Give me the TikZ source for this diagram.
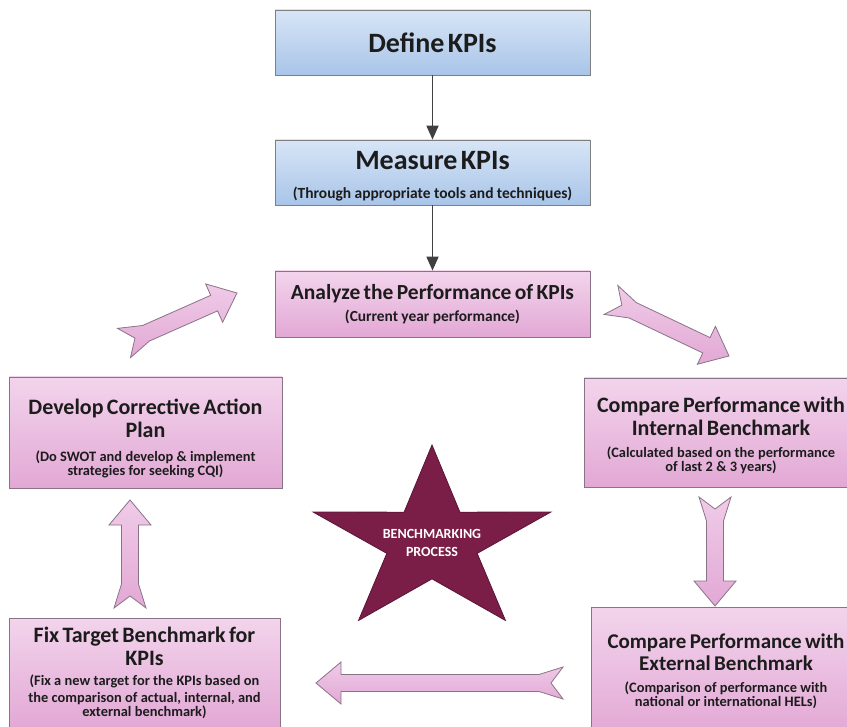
\documentclass[tikz,border=0pt]{standalone}
\usepackage{fontspec}
\setmainfont{Carlito}
\usetikzlibrary{calc}
\usetikzlibrary{arrows.meta, shapes, positioning}
\tikzset{>=stealth}

\definecolor{bluetop}{HTML}{D7E5F6}
\definecolor{bluebot}{HTML}{A8C5E8}
\definecolor{pinktop}{HTML}{F3D4EC}
\definecolor{pinkbot}{HTML}{E2A8D5}
\definecolor{boxline}{HTML}{7F7F7F}
\definecolor{pinkline}{HTML}{8A7387}
\definecolor{starfill}{HTML}{7A1D47}
\definecolor{starline}{HTML}{5B1535}
\definecolor{flowgray}{HTML}{404040}
\definecolor{txt}{HTML}{1C1C1C}

% notched block arrow from tail #1 to tip #2
\newcommand{\fletcharrow}[2]{%
  \draw[blockarrow] ($(#1)!12pt!(#2)$)
    -- ($(#1)!16pt!90:(#2)$)
    -- ($(#1)!24pt!(#2)!8.5pt!90:(#2)$)
    -- ($(#2)!25pt!(#1)!8.5pt!-90:(#1)$)
    -- ($(#2)!25pt!(#1)!21pt!-90:(#1)$)
    -- (#2)
    -- ($(#2)!25pt!(#1)!21pt!90:(#1)$)
    -- ($(#2)!25pt!(#1)!8.5pt!90:(#1)$)
    -- ($(#1)!24pt!(#2)!8.5pt!-90:(#2)$)
    -- ($(#1)!16pt!-90:(#2)$)
    -- cycle;}

\begin{document}
\begin{tikzpicture}[x=1pt, y=-1pt,
    kpibox/.style={draw=boxline, line width=0.8pt, top color=bluetop, bottom color=bluebot,
      minimum width=315pt, inner sep=0pt, align=center, text=txt, font=\bfseries},
    stepbox/.style={draw=pinkline, line width=0.8pt, top color=pinktop, bottom color=pinkbot,
      inner sep=0pt, align=center, text=txt, font=\bfseries},
    blockarrow/.style={draw=pinkline, line width=0.8pt, top color=pinktop!80!pinkbot, bottom color=pinkbot},
    benchstar/.style={fill=starfill, draw=starline, line width=0.8pt},
    flow/.style={flowgray, line width=1.8pt, -{Triangle[length=14pt,width=12pt]}}]

  \useasboundingbox (0,0) rectangle (847,727);
  \fill[white] (0,0) rectangle (847,727);

  % top chain
  \node[kpibox, minimum height=65pt, text width=305pt] (define) at (432.5,42.5)
    {\fontsize{28}{30}\selectfont Define KPIs};
  \node[kpibox, minimum height=65pt, text width=305pt] (measure) at (432.5,172.5)
    {\fontsize{28}{30}\selectfont\rule{0pt}{26pt}Measure KPIs\\[17pt]
     \fontsize{15.5}{17}\selectfont (Through appropriate tools and techniques)};
  \node[stepbox, minimum width=315pt, minimum height=66pt, text width=305pt] (analyze) at (432.5,304)
    {\fontsize{21.5}{23}\selectfont Analyze the Performance of KPIs\\[6pt]
     \fontsize{15.4}{17}\selectfont (Current year performance)};

  \draw[flow] (define) -- (measure);
  \draw[flow] (measure) -- (analyze);

  % cycle boxes
  \node[stepbox, minimum width=273pt, minimum height=111pt, text width=263pt] (develop) at (145.5,432.5)
    {\fontsize{22}{23}\selectfont\rule{0pt}{28pt}Develop Corrective Action\\Plan\\[7pt]
     \fontsize{14.4}{17}\selectfont (Do SWOT and develop \& implement\\strategies for seeking CQI)};
  \node[stepbox, minimum width=274pt, minimum height=109pt, text width=264pt] (internal) at (721,432.5)
    {\fontsize{22}{23}\selectfont\rule{0pt}{22pt}Compare Performance with\\Internal Benchmark\\[5pt]
     \fontsize{14.4}{17}\selectfont (Calculated based on the performance\\of last 2 \& 3 years)};
  \node[stepbox, minimum width=270pt, minimum height=128pt, text width=260pt] (external) at (726,671)
    {\fontsize{21}{22.5}\selectfont Compare Performance with\\External Benchmark\\[5pt]
     \fontsize{14.4}{17}\selectfont (Comparison of performance with\\national or international HELs)};
  \node[stepbox, minimum width=271pt, minimum height=110pt, text width=261pt] (fixtarget) at (144.5,673)
    {\fontsize{22}{23}\selectfont Fix Target Benchmark for\\KPIs\\[3pt]
     \fontsize{14.4}{17}\selectfont (Fix a new target for the KPIs based on\\the comparison of actual, internal, and\\external benchmark)};

  % block arrows round the cycle
  \coordinate (cmpTail) at (611,300);  \coordinate (cmpTip) at (729,356);
  \coordinate (extTail) at (715,497);  \coordinate (extTip) at (715,606);
  \coordinate (fixTail) at (563,683);  \coordinate (fixTip) at (316,683);
  \coordinate (actTail) at (130,608);  \coordinate (actTip) at (130,500);
  \coordinate (loopTail) at (124,343); \coordinate (loopTip) at (237,293);
  \fletcharrow{cmpTail}{cmpTip}
  \fletcharrow{extTail}{extTip}
  \fletcharrow{fixTail}{fixTip}
  \fletcharrow{actTail}{actTip}
  \fletcharrow{loopTail}{loopTip}

  % star in the middle
  \draw[benchstar] (432,445)
    \foreach \i [evaluate=\i as \r using {ifthenelse(mod(\i,2)==0,1,0.38)}] in {1,...,9}
      { -- ({432+125*\r*cos(90+36*\i)}, {542-97*\r*sin(90+36*\i)}) } -- cycle;
  \node[text=white, align=center, font=\bfseries\fontsize{14}{18}\selectfont] (bench) at (432,543)
    {BENCHMARKING\\PROCESS};
\end{tikzpicture}
\end{document}
